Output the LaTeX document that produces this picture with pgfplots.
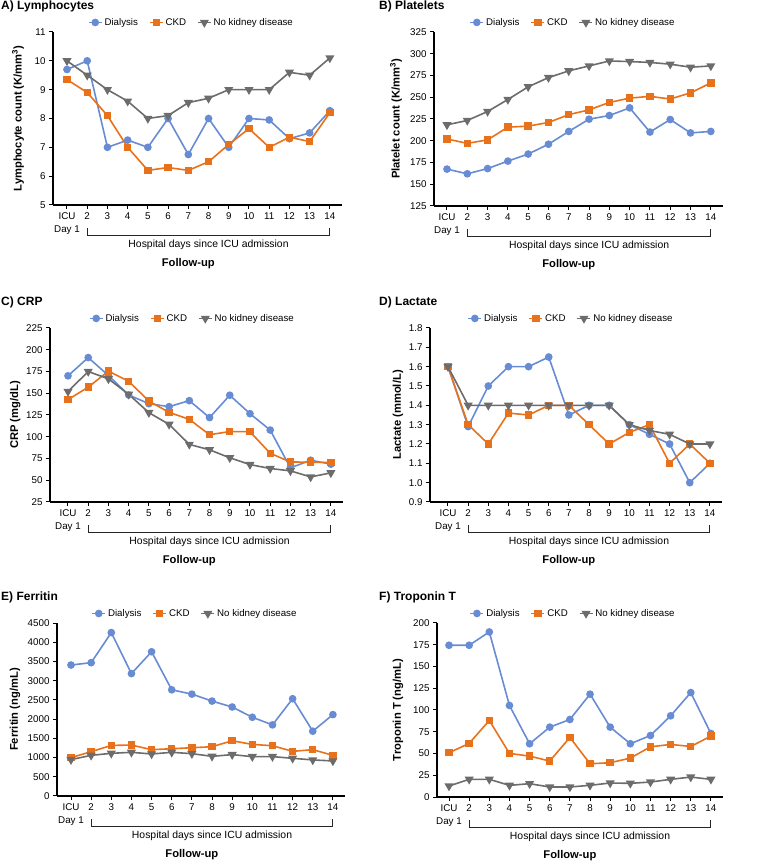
\documentclass[border=0pt]{standalone}
\usepackage{fontspec}
\setmainfont{Liberation Sans}
\usepackage{pgfplots}
\pgfplotsset{compat=1.18}
\definecolor{cBlue}{RGB}{104,140,212}
\definecolor{cOrange}{RGB}{232,114,28}
\definecolor{cGray}{RGB}{108,108,108}
\newcommand{\tickfont}{\fontsize{9.8}{13}\selectfont}
\newcommand{\deco}[1]{%
  \draw[line width=0.9pt, black!85] ([yshift=-23pt]axis cs:2,#1) -- ([yshift=-30pt]axis cs:2,#1) -- ([yshift=-30pt]axis cs:14,#1) -- ([yshift=-23pt]axis cs:14,#1);
  \node[font=\fontsize{10.4}{12}\selectfont] at ([yshift=-40pt]axis cs:8,#1) {Hospital days since ICU admission};
  \node[font=\bfseries\fontsize{11.2}{13}\selectfont] at ([yshift=-59pt]axis cs:7,#1) {Follow-up};
}
\pgfplotsset{
  panel/.style={
    scale only axis, clip=false,
    axis x line=bottom, axis y line=left,
    axis line style={-, line width=1.2pt, black},
    tick align=outside,
    major tick length=4pt,
    every tick/.style={black, line width=1pt},
    xtick={1,...,14},
    xticklabels={{ICU\\Day 1},2,3,4,5,6,7,8,9,10,11,12,13,14},
    xticklabel style={align=center, font=\tickfont},
    yticklabel style={font=\tickfont},
    xmax=14.6,
    ylabel style={font=\bfseries\fontsize{11.2}{13}\selectfont, anchor=center},
    /pgf/number format/assume math mode=true,
    /pgf/number format/1000 sep={},
    legend columns=3,
    legend style={draw=none, fill=none, font=\fontsize{9.7}{11}\selectfont, anchor=center,
      /tikz/every even column/.append style={column sep=9pt}},
  },
  dial/.style={color=cBlue, line width=1.6pt, mark=*, mark size=3.0pt, mark options={solid, fill=cBlue}},
  ckd/.style={color=cOrange, line width=1.6pt, mark=square*, mark size=2.9pt, mark options={solid, fill=cOrange}},
  nkd/.style={color=cGray, line width=1.6pt, mark=triangle*, mark size=3.7pt, mark options={solid, fill=cGray, rotate=180}},
}
\pgfplotsset{legend image code/.code={\draw[mark repeat=2,mark phase=2,#1] plot coordinates {(0pt,0pt) (6.5pt,0pt) (13pt,0pt)};}}
\begin{document}
\begin{tikzpicture}
\useasboundingbox (0pt,0pt) rectangle (756pt,861pt);
% A) Lymphocytes
\begin{axis}[panel, at={(53pt,656pt)}, anchor=south west, width=289pt, height=173pt,
  xmin=0.308, ymin=5, ymax=11, ytick={5,6,...,11},
  ylabel={Lymphocyte count (K/mm\textsuperscript{3})},
  ylabel style={at={(axis description cs:-0.121,0.5)}},
  legend style={at={(0.479,1.055)}}]
\addplot[dial] coordinates {(1,9.7)(2,10.0)(3,7.0)(4,7.25)(5,7.0)(6,8.0)(7,6.75)(8,8.0)(9,7.0)(10,8.0)(11,7.95)(12,7.3)(13,7.5)(14,8.27)};
\addplot[ckd] coordinates {(1,9.35)(2,8.9)(3,8.1)(4,7.0)(5,6.2)(6,6.3)(7,6.2)(8,6.5)(9,7.1)(10,7.65)(11,7.0)(12,7.35)(13,7.2)(14,8.2)};
\addplot[nkd] coordinates {(1,10.0)(2,9.5)(3,9.0)(4,8.6)(5,8.0)(6,8.1)(7,8.55)(8,8.7)(9,9.0)(10,9.0)(11,9.0)(12,9.6)(13,9.5)(14,10.1)};
\legend{Dialysis, CKD, No kidney disease}
\deco{5}
\end{axis}
% B) Platelets
\begin{axis}[panel, at={(434pt,655pt)}, anchor=south west, width=289pt, height=174pt,
  xmin=0.36, ymin=125, ymax=325, ytick={125,150,...,325},
  ylabel={Platelet count (K/mm\textsuperscript{3})},
  ylabel style={at={(axis description cs:-0.131,0.5)}},
  legend style={at={(0.481,1.055)}}]
\addplot[dial] coordinates {(1,167.4)(2,162)(3,168)(4,176.6)(5,184.7)(6,196)(7,210.7)(8,224.8)(9,229)(10,237.8)(11,210)(12,224.4)(13,209)(14,210.7)};
\addplot[ckd] coordinates {(1,202)(2,197)(3,201)(4,215.6)(5,216.8)(6,221)(7,230)(8,235.5)(9,244)(10,249)(11,251)(12,248)(13,255)(14,266.5)};
\addplot[nkd] coordinates {(1,218.3)(2,223.3)(3,233.6)(4,247.4)(5,262)(6,272.6)(7,280.3)(8,286)(9,291.7)(10,291)(11,290)(12,288)(13,284.5)(14,286)};
\legend{Dialysis, CKD, No kidney disease}
\deco{125}
\end{axis}
% C) CRP
\begin{axis}[panel, at={(50pt,359pt)}, anchor=south west, width=293pt, height=174pt,
  xmin=0.11, ymin=25, ymax=225, ytick={25,50,...,225},
  ylabel={CRP (mg/dL)},
  ylabel style={at={(axis description cs:-0.119,0.5)}},
  legend style={at={(0.486,1.055)}}]
\addplot[dial] coordinates {(1,170)(2,191)(3,170.4)(4,148)(5,138)(6,134.6)(7,141.5)(8,122)(9,147.7)(10,126.5)(11,107.7)(12,64.2)(13,73)(14,68.5)};
\addplot[ckd] coordinates {(1,142.7)(2,157)(3,175.4)(4,163.8)(5,141)(6,128)(7,120)(8,102.3)(9,106)(10,105.8)(11,81)(12,71)(13,70.8)(14,70.4)};
\addplot[nkd] coordinates {(1,152)(2,175)(3,166.5)(4,148.8)(5,127.7)(6,114.2)(7,91.2)(8,85)(9,75.8)(10,68)(11,63.5)(12,60.8)(13,53.8)(14,58.5)};
\legend{Dialysis, CKD, No kidney disease}
\deco{25}
\end{axis}
% D) Lactate
\begin{axis}[panel, at={(430pt,359pt)}, anchor=south west, width=292pt, height=174pt,
  xmin=0.107, ymin=0.9, ymax=1.8, ytick={0.9,1.0,1.1,1.2,1.3,1.4,1.5,1.6,1.7,1.8},
  yticklabel style={/pgf/number format/fixed, /pgf/number format/fixed zerofill, /pgf/number format/precision=1},
  ylabel={Lactate (mmol/L)},
  ylabel style={at={(axis description cs:-0.110,0.5)}},
  legend style={at={(0.483,1.055)}}]
\addplot[dial] coordinates {(1,1.6)(2,1.29)(3,1.5)(4,1.6)(5,1.6)(6,1.65)(7,1.35)(8,1.4)(9,1.4)(10,1.3)(11,1.25)(12,1.2)(13,1.0)(14,1.1)};
\addplot[ckd] coordinates {(1,1.6)(2,1.3)(3,1.2)(4,1.36)(5,1.35)(6,1.4)(7,1.4)(8,1.3)(9,1.2)(10,1.26)(11,1.3)(12,1.1)(13,1.2)(14,1.1)};
\addplot[nkd] coordinates {(1,1.6)(2,1.4)(3,1.4)(4,1.4)(5,1.4)(6,1.4)(7,1.4)(8,1.4)(9,1.4)(10,1.3)(11,1.27)(12,1.25)(13,1.2)(14,1.2)};
\legend{Dialysis, CKD, No kidney disease}
\deco{0.9}
\end{axis}
% E) Ferritin
\begin{axis}[panel, at={(57pt,65pt)}, anchor=south west, width=288pt, height=173pt,
  xmin=0.305, ymin=0, ymax=4500, ytick={0,500,...,4500},
  ylabel={Ferritin (ng/mL)},
  ylabel style={at={(axis description cs:-0.146,0.5)}},
  legend style={at={(0.479,1.055)}}]
\addplot[dial] coordinates {(1,3407)(2,3468)(3,4251)(4,3184)(5,3752)(6,2762)(7,2650)(8,2469)(9,2315)(10,2048)(11,1850)(12,2530)(13,1686)(14,2117)};
\addplot[ckd] coordinates {(1,998)(2,1153)(3,1316)(4,1325)(5,1205)(6,1230)(7,1256)(8,1282)(9,1437)(10,1342)(11,1308)(12,1162)(13,1205)(14,1058)};
\addplot[nkd] coordinates {(1,946)(2,1058)(3,1110)(4,1136)(5,1093)(6,1136)(7,1101)(8,1032)(9,1076)(10,1024)(11,1024)(12,981)(13,938)(14,912)};
\legend{Dialysis, CKD, No kidney disease}
\deco{0}
\end{axis}
% F) Troponin T
\begin{axis}[panel, at={(437pt,64pt)}, anchor=south west, width=286pt, height=174pt,
  xmin=0.404, ymin=0, ymax=200, ytick={0,25,...,200},
  ylabel={Troponin T (ng/mL)},
  ylabel style={at={(axis description cs:-0.136,0.5)}},
  legend style={at={(0.476,1.055)}}]
\addplot[dial] coordinates {(1,174.4)(2,174.4)(3,189.7)(4,105.2)(5,61.2)(6,80.3)(7,89.1)(8,118.2)(9,80.3)(10,61.2)(11,70.7)(12,93.3)(13,120)(14,73)};
\addplot[ckd] coordinates {(1,50.9)(2,61.6)(3,88)(4,50.1)(5,47)(6,41.3)(7,68.5)(8,38.2)(9,39.4)(10,44.7)(11,57.7)(12,60.4)(13,58.1)(14,70)};
\addplot[nkd] coordinates {(1,12.6)(2,20.3)(3,20.3)(4,13.4)(5,15.3)(6,11.5)(7,11.5)(8,13.4)(9,16.1)(10,15.7)(11,17.2)(12,20.3)(13,22.9)(14,20.3)};
\legend{Dialysis, CKD, No kidney disease}
\deco{0}
\end{axis}
% Panel titles
\tikzset{ptitle/.style={anchor=base west, inner sep=0pt, font=\bfseries\fontsize{12}{14}\selectfont}}
\node[ptitle] at (1pt,851pt) {A) Lymphocytes};
\node[ptitle] at (379pt,851pt) {B) Platelets};
\node[ptitle] at (1pt,555.3pt) {C) CRP};
\node[ptitle] at (379pt,555.3pt) {D) Lactate};
\node[ptitle] at (1pt,260.3pt) {E) Ferritin};
\node[ptitle] at (379pt,260.3pt) {F) Troponin T};
\end{tikzpicture}
\end{document}
